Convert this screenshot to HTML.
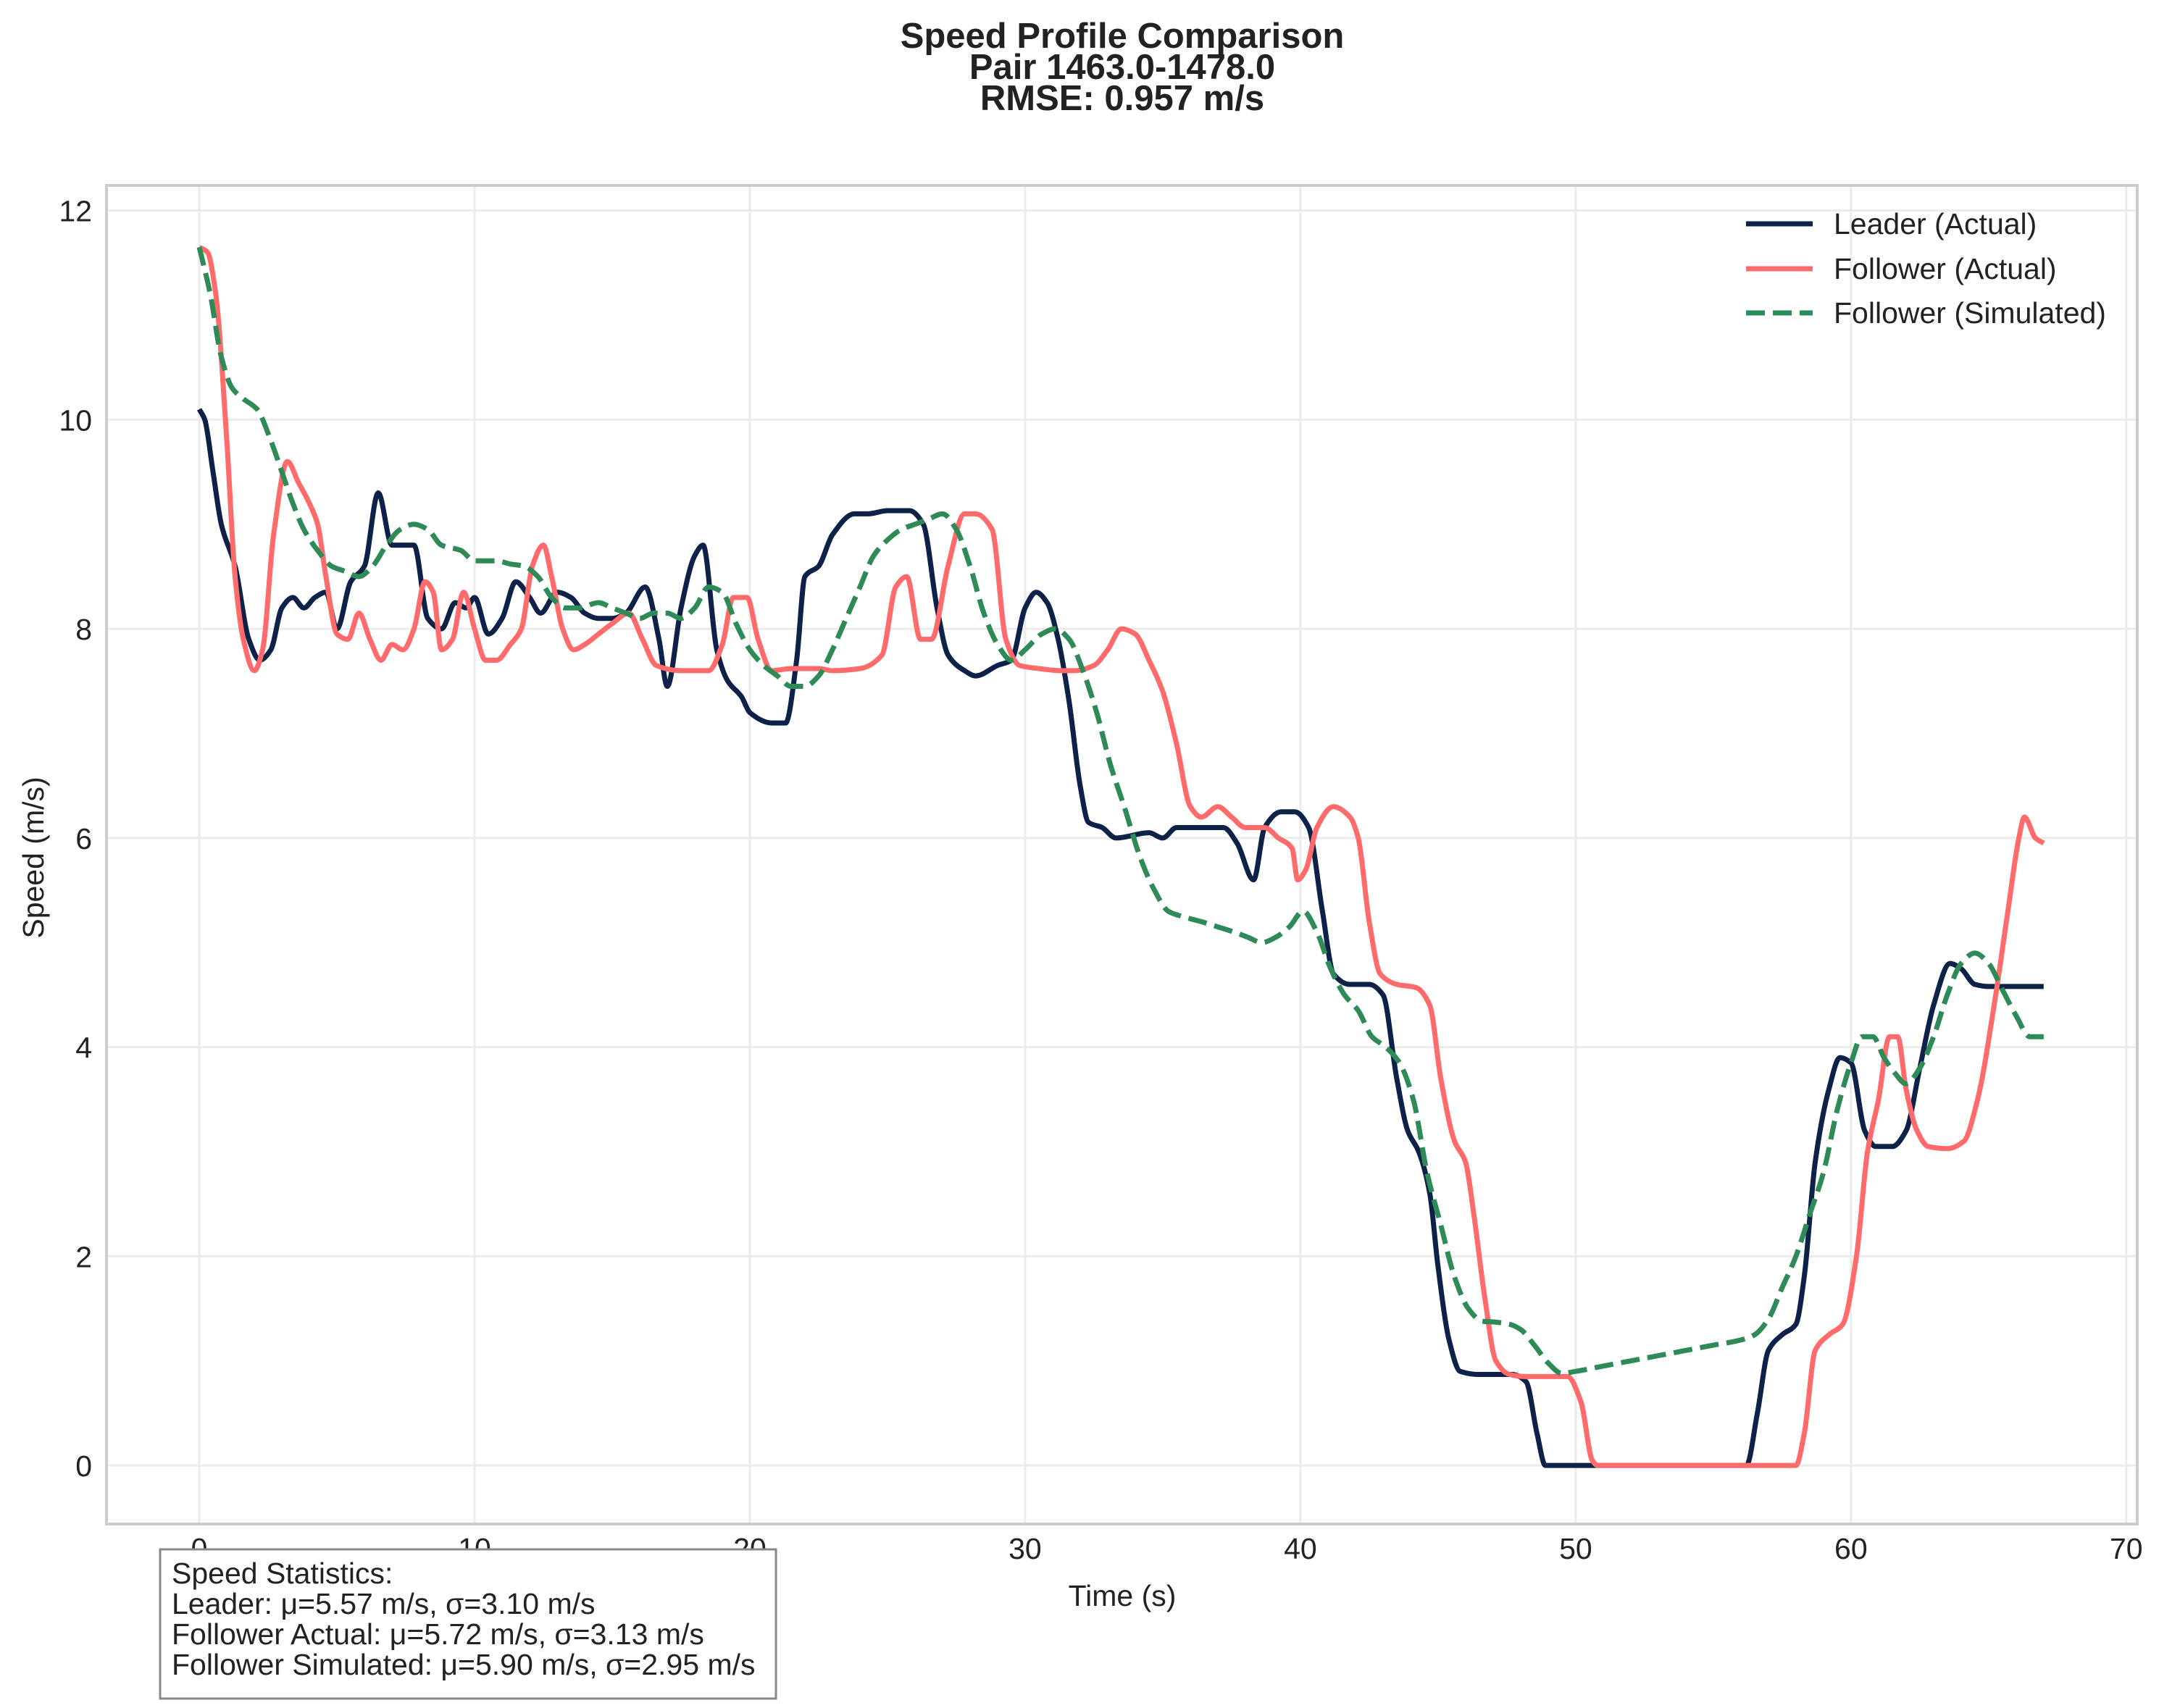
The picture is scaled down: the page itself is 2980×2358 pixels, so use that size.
<!DOCTYPE html>
<html><head><meta charset="utf-8"><style>
body{margin:0;background:#fff;}
svg{display:block;font-family:"Liberation Sans",Arial,sans-serif;}
</style></head><body>
<svg id="chart" width="2980" height="2358" viewBox="0 0 2980 2358" xmlns="http://www.w3.org/2000/svg">
<rect width="2980" height="2358" fill="#fff"/>
<g id="title" font-weight="bold" font-size="49" fill="#222" text-anchor="middle">
<text x="1549" y="66">Speed Profile Comparison</text>
<text x="1549" y="109">Pair 1463.0-1478.0</text>
<text x="1549" y="152">RMSE: 0.957 m/s</text>
</g>
<g id="grid"></g>
<g id="series"></g>
<rect x="147" y="256" width="2803" height="1848" fill="none" stroke="#cccccc" stroke-width="4"/>
<g id="ticks" font-size="41" fill="#222"></g>
<text x="1549" y="2217" font-size="41" fill="#222" text-anchor="middle">Time (s)</text>
<text transform="translate(60,1184) rotate(-90)" font-size="41" fill="#222" text-anchor="middle">Speed (m/s)</text>
<g font-size="41" fill="#222">
<g><line x1="2410" y1="309" x2="2502" y2="309" stroke="#0d2149" stroke-width="7"/><text x="2531" y="323">Leader (Actual)</text></g>
<g><line x1="2410" y1="371" x2="2502" y2="371" stroke="#ff6b6b" stroke-width="7"/><text x="2531" y="385">Follower (Actual)</text></g>
<g><line x1="2410" y1="432" x2="2502" y2="432" stroke="#2e8b57" stroke-width="7" stroke-dasharray="26,11"/><text x="2531" y="446">Follower (Simulated)</text></g>
</g>
<g>
<rect x="221" y="2139" width="850" height="206" fill="#fff" stroke="#888" stroke-width="3"/>
<g font-size="41" fill="#222">
<text x="237" y="2186">Speed Statistics:</text>
<text x="237" y="2228">Leader: μ=5.57 m/s, σ=3.10 m/s</text>
<text x="237" y="2270">Follower Actual: μ=5.72 m/s, σ=3.13 m/s</text>
<text x="237" y="2312">Follower Simulated: μ=5.90 m/s, σ=2.95 m/s</text>
</g></g>
</svg>
<script>
const xTicks=[0,10,20,30,40,50,60,70];
const yTicks=[0,2,4,6,8,10,12];
const leaderT=[0,0.2,0.5,0.8,1.3,1.8,2.2,2.6,3.0,3.4,3.8,4.2,4.6,5.0,5.5,6.0,6.5,7.0,7.5,7.8,8.3,8.8,9.3,9.7,10.0,10.5,11.0,11.5,12.0,12.4,13.0,13.5,14.0,14.5,15.0,15.5,16.2,16.7,17.0,17.5,18.0,18.3,18.8,19.2,19.7,20.0,20.8,21.3,21.7,22.0,22.5,23.0,23.8,24.3,25.0,25.8,26.3,26.8,27.2,27.8,28.2,29.0,29.5,30.0,30.4,30.8,31.2,31.6,32.0,32.3,32.8,33.3,34.5,35.0,35.5,36.5,37.2,37.7,38.3,38.7,39.3,39.8,40.3,40.8,41.2,41.8,42.5,43.0,43.5,43.9,44.3,44.7,45.0,45.4,45.8,46.5,47.0,47.7,48.2,48.6,48.9,56.2,56.6,57.0,57.5,58.0,58.3,58.7,59.2,59.6,60.0,60.5,60.9,61.5,62.0,62.5,63.0,63.6,64.0,64.5,65.0,67.0];
const leaderV=[10.1,10.0,9.5,9.0,8.6,7.9,7.7,7.8,8.2,8.3,8.2,8.3,8.35,8.0,8.45,8.6,9.3,8.8,8.8,8.8,8.1,8.0,8.25,8.2,8.3,7.95,8.1,8.45,8.3,8.15,8.35,8.3,8.15,8.1,8.1,8.15,8.4,7.9,7.45,8.2,8.7,8.8,7.8,7.5,7.35,7.2,7.1,7.1,7.7,8.5,8.6,8.9,9.1,9.1,9.13,9.13,9.0,8.2,7.75,7.6,7.55,7.65,7.7,8.2,8.35,8.25,7.9,7.3,6.5,6.15,6.1,6.0,6.05,6.0,6.1,6.1,6.1,5.95,5.6,6.1,6.25,6.25,6.1,5.3,4.7,4.6,4.6,4.5,3.7,3.2,3.0,2.6,1.9,1.2,0.9,0.87,0.87,0.87,0.8,0.3,0.0,0.0,0.5,1.1,1.25,1.35,1.8,2.9,3.6,3.9,3.85,3.2,3.05,3.05,3.2,3.8,4.4,4.8,4.75,4.6,4.58,4.58];
const followerT=[0,0.3,0.6,1.0,1.3,1.6,2.0,2.3,2.7,3.2,3.6,4.0,4.3,4.6,5.0,5.4,5.8,6.2,6.6,7.0,7.4,7.8,8.2,8.5,8.8,9.2,9.6,10.0,10.4,10.8,11.3,11.7,12.1,12.5,12.8,13.2,13.6,14.0,14.5,15.0,15.6,16.1,16.6,17.5,18.5,19.0,19.4,19.9,20.3,20.8,21.5,22.5,23.0,24.0,24.8,25.3,25.7,26.2,26.6,27.2,27.8,28.2,28.8,29.3,29.8,30.5,31.3,31.8,32.5,33.0,33.5,34.0,34.5,35.0,35.5,36.0,36.4,37.0,37.5,38.0,38.7,39.2,39.7,39.9,40.2,40.6,41.2,41.8,42.1,42.5,42.9,43.5,44.2,44.7,45.1,45.6,46.0,46.3,46.7,47.1,47.6,48.2,49.0,49.7,50.2,50.6,50.8,58.0,58.3,58.7,59.2,59.7,60.2,60.6,61.0,61.4,61.7,62.0,62.4,62.8,63.5,64.1,64.6,65.2,65.7,66.1,66.3,66.7,67.0];
const followerV=[11.65,11.6,11.2,9.8,8.5,7.9,7.6,7.8,8.9,9.6,9.4,9.2,9.0,8.5,7.95,7.9,8.15,7.9,7.7,7.85,7.8,8.0,8.45,8.35,7.8,7.9,8.35,8.0,7.7,7.7,7.85,8.0,8.6,8.8,8.5,8.0,7.8,7.85,7.95,8.05,8.15,7.9,7.65,7.6,7.6,7.85,8.3,8.3,7.9,7.6,7.62,7.62,7.6,7.62,7.75,8.4,8.5,7.9,7.9,8.6,9.1,9.1,8.95,7.9,7.65,7.62,7.6,7.6,7.65,7.8,8.0,7.95,7.7,7.4,6.9,6.3,6.2,6.3,6.2,6.1,6.1,6.0,5.9,5.6,5.7,6.1,6.3,6.2,6.0,5.2,4.7,4.6,4.57,4.4,3.7,3.1,2.9,2.4,1.6,1.0,0.87,0.85,0.85,0.85,0.6,0.05,0.0,0.0,0.3,1.1,1.25,1.35,2.0,3.0,3.5,4.1,4.1,3.6,3.2,3.05,3.03,3.1,3.5,4.4,5.3,6.0,6.2,6.0,5.95];
const simT=[0,0.4,0.8,1.2,1.6,2.1,2.6,3.0,3.4,3.8,4.3,4.8,5.3,5.8,6.3,6.8,7.3,7.8,8.3,8.8,9.5,10.0,10.8,11.3,11.8,12.3,12.8,13.3,13.8,14.5,15.0,15.5,16.0,16.5,17.0,17.5,18.0,18.5,19.0,19.5,20.0,20.5,21.0,21.5,22.0,22.5,23.0,23.5,24.0,24.5,25.0,25.5,26.0,26.5,27.0,27.5,28.0,28.5,29.0,29.5,30.0,30.6,31.1,31.6,32.1,32.6,33.1,33.6,34.2,34.7,35.2,35.7,36.4,37.0,37.6,38.1,38.6,39.1,39.6,40.1,40.6,41.1,41.6,42.1,42.6,43.1,43.6,44.1,44.6,45.1,45.6,46.1,46.6,47.1,47.6,48.0,48.5,49.0,49.5,50.0,51.0,52.0,53.0,54.0,55.0,56.0,56.5,57.0,57.5,58.0,58.5,59.0,59.5,60.0,60.4,60.8,61.2,61.6,62.0,62.5,63.0,63.5,64.0,64.5,65.0,65.5,66.0,66.5,67.0];
const simV=[11.65,11.2,10.6,10.3,10.2,10.1,9.8,9.5,9.2,8.95,8.75,8.6,8.55,8.5,8.6,8.8,8.95,9.0,8.95,8.8,8.75,8.65,8.65,8.62,8.6,8.5,8.3,8.2,8.2,8.25,8.2,8.15,8.1,8.15,8.15,8.1,8.2,8.4,8.35,8.05,7.8,7.65,7.55,7.45,7.45,7.55,7.8,8.1,8.4,8.7,8.85,8.95,9.0,9.05,9.1,8.95,8.6,8.15,7.85,7.7,7.8,7.95,8.0,7.9,7.6,7.2,6.7,6.3,5.8,5.5,5.3,5.25,5.2,5.15,5.1,5.05,5.0,5.05,5.15,5.3,5.1,4.75,4.5,4.35,4.1,4.0,3.85,3.5,2.8,2.3,1.8,1.5,1.38,1.37,1.35,1.3,1.15,0.98,0.88,0.9,0.95,1.0,1.05,1.1,1.15,1.2,1.25,1.4,1.7,2.0,2.4,2.8,3.4,3.85,4.1,4.1,3.9,3.75,3.65,3.8,4.1,4.5,4.8,4.9,4.8,4.55,4.3,4.1,4.1];

const NS='http://www.w3.org/2000/svg';
const X0=147,X1=2950,Y0=256,Y1=2104;
const xMin=-3.37,xMax=70.4,yMin=-0.56,yMax=12.24;
function sx(t){return X0+(t-xMin)/(xMax-xMin)*(X1-X0);}
function sy(v){return Y1-(v-yMin)/(yMax-yMin)*(Y1-Y0);}
const grid=document.getElementById('grid'),ticks=document.getElementById('ticks'),series=document.getElementById('series');
xTicks.forEach(t=>{
  const l=document.createElementNS(NS,'line');
  l.setAttribute('x1',sx(t));l.setAttribute('x2',sx(t));l.setAttribute('y1',Y0);l.setAttribute('y2',Y1);
  l.setAttribute('stroke','#ebebeb');l.setAttribute('stroke-width','3');
  
  
  grid.appendChild(l);
  const tx=document.createElementNS(NS,'text');
  tx.setAttribute('x',sx(t));tx.setAttribute('y',Y1+48);tx.setAttribute('text-anchor','middle');
  tx.textContent=t;
  
  
  ticks.appendChild(tx);
});
yTicks.forEach(v=>{
  const l=document.createElementNS(NS,'line');
  l.setAttribute('x1',X0);l.setAttribute('x2',X1);l.setAttribute('y1',sy(v));l.setAttribute('y2',sy(v));
  l.setAttribute('stroke','#ebebeb');l.setAttribute('stroke-width','3');
  
  
  grid.appendChild(l);
  const tx=document.createElementNS(NS,'text');
  tx.setAttribute('x',X0-20);tx.setAttribute('y',sy(v)+15);tx.setAttribute('text-anchor','end');
  tx.textContent=v;
  
  
  ticks.appendChild(tx);
});
function pathFor(T,V){
  const n=T.length,x=T.map(sx),y=V.map(sy);
  const d=[],m=new Array(n);
  for(let i=0;i<n-1;i++)d.push((y[i+1]-y[i])/(x[i+1]-x[i]));
  m[0]=d[0];m[n-1]=d[n-2];
  for(let i=1;i<n-1;i++){
    if(d[i-1]*d[i]<=0)m[i]=0;
    else{const w1=2*(x[i+1]-x[i])+(x[i]-x[i-1]),w2=(x[i+1]-x[i])+2*(x[i]-x[i-1]);
      m[i]=(w1+w2)/(w1/d[i-1]+w2/d[i]);}
  }
  let s='M'+x[0]+','+y[0];
  for(let i=0;i<n-1;i++){
    const h=(x[i+1]-x[i])/3;
    s+=' C'+(x[i]+h)+','+(y[i]+m[i]*h)+' '+(x[i+1]-h)+','+(y[i+1]-m[i+1]*h)+' '+x[i+1]+','+y[i+1];
  }
  return s;
}
function addLine(T,V,color,dash,name){
  const p=document.createElementNS(NS,'path');
  p.setAttribute('d',pathFor(T,V));p.setAttribute('fill','none');p.setAttribute('stroke',color);
  p.setAttribute('stroke-width','7');p.setAttribute('stroke-linejoin','round');
  if(dash)p.setAttribute('stroke-dasharray',dash);
  
  
  series.appendChild(p);
}
addLine(leaderT,leaderV,'#0d2149',null,'leader-actual-line');
addLine(followerT,followerV,'#ff6b6b',null,'follower-actual-line');
addLine(simT,simV,'#2e8b57','26,11','follower-simulated-line');
</script>
</body></html>
